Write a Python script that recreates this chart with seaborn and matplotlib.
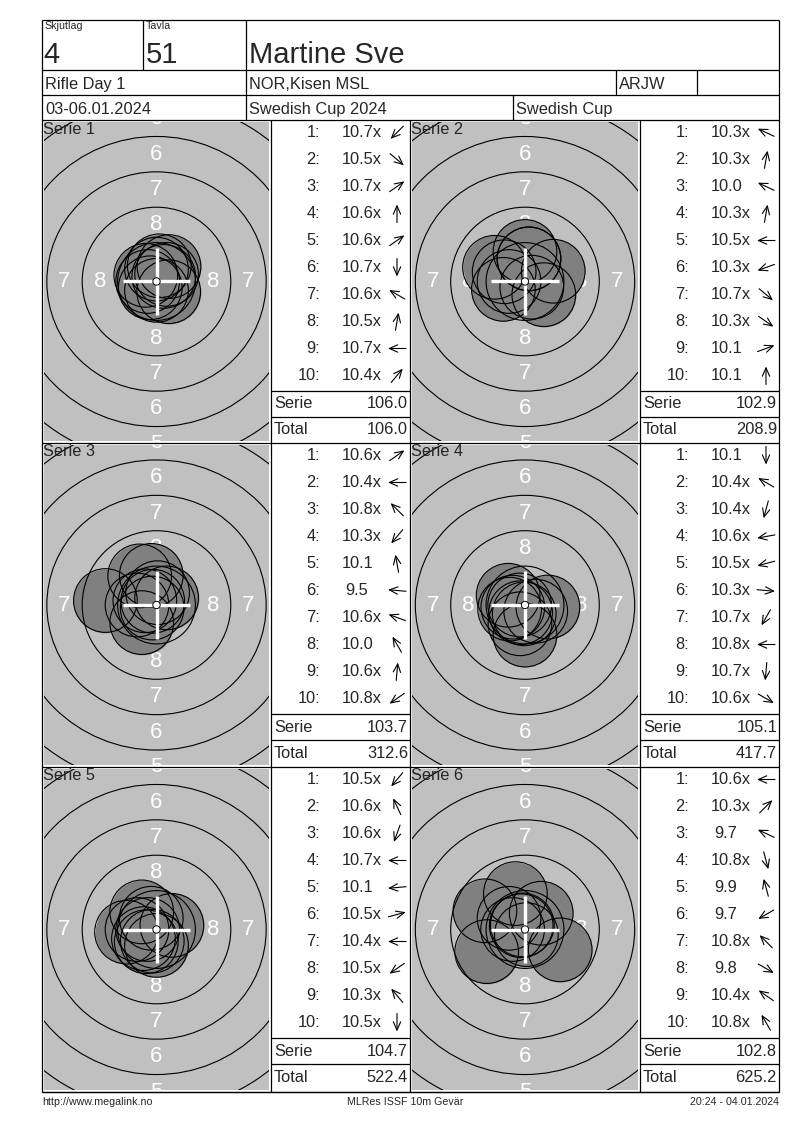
import numpy as np
import pandas as pd
import matplotlib
matplotlib.use("Agg")
import matplotlib.pyplot as plt
from matplotlib.patches import Circle
import seaborn as sns

# ---------------- data ----------------
relay_label = "Skjutlag"
relay_value = "4"
lane_label = "Tavla"
lane_value = "51"
shooter = "Martine Sve"
event_name = "Rifle Day 1"
club = "NOR,Kisen MSL"
shooter_class = "ARJW"
dates = "03-06.01.2024"
competition = "Swedish Cup 2024"
cup_name = "Swedish Cup"
footer_left = "http://www.megalink.no"
footer_mid = "MLRes ISSF 10m Gevär"
footer_right = "20:24 - 04.01.2024"

series_names = ["Serie 1", "Serie 2", "Serie 3", "Serie 4", "Serie 5", "Serie 6"]

s1_scores = [10.7, 10.5, 10.7, 10.6, 10.6, 10.7, 10.6, 10.5, 10.7, 10.4]
s2_scores = [10.3, 10.3, 10.0, 10.3, 10.5, 10.3, 10.7, 10.3, 10.1, 10.1]
s3_scores = [10.6, 10.4, 10.8, 10.3, 10.1, 9.5, 10.6, 10.0, 10.6, 10.8]
s4_scores = [10.1, 10.4, 10.4, 10.6, 10.5, 10.3, 10.7, 10.8, 10.7, 10.6]
s5_scores = [10.5, 10.6, 10.6, 10.7, 10.1, 10.5, 10.4, 10.5, 10.3, 10.5]
s6_scores = [10.6, 10.3, 9.7, 10.8, 9.9, 9.7, 10.8, 9.8, 10.4, 10.8]

# shot direction from centre (degrees, 0 = right, 90 = up), read from the arrows
s1_dirs = [225, 320, 35, 90, 35, 270, 150, 80, 180, 50]
s2_dirs = [155, 80, 155, 80, 180, 200, 320, 325, 20, 90]
s3_dirs = [35, 180, 135, 230, 100, 175, 160, 120, 85, 215]
s4_dirs = [270, 150, 255, 190, 195, 355, 240, 180, 265, 330]
s5_dirs = [230, 115, 250, 180, 185, 15, 180, 215, 130, 270]
s6_dirs = [180, 45, 155, 285, 105, 210, 135, 330, 145, 120]

series_sums = [106.0, 102.9, 103.7, 105.1, 104.7, 102.8]
running_totals = [106.0, 208.9, 312.6, 417.7, 522.4, 625.2]

all_scores = [s1_scores, s2_scores, s3_scores, s4_scores, s5_scores, s6_scores]
all_dirs = [s1_dirs, s2_dirs, s3_dirs, s4_dirs, s5_dirs, s6_dirs]

# ISSF 10 m air rifle target geometry (mm)
ring_radii = [2.75, 5.25, 7.75, 10.25, 12.75, 15.25, 17.75]
ring_labels = [8, 7, 6, 5]
ring_label_r = [4.0, 6.5, 9.0, 11.5]
pellet_r = 2.25

# ---------------- figure ----------------
sns.set_theme(style="white")
plt.rcParams["font.family"] = ["Liberation Sans", "DejaVu Sans"]

W, H, DPI = 800, 1130, 100
fig = plt.figure(figsize=(W / DPI, H / DPI), dpi=DPI)
fig.patch.set_facecolor("white")
PXMM = 14.15
PT = 72.0 / DPI


def fig_axes(x0, y0, x1, y1):
    return fig.add_axes([x0 / W, 1 - y1 / H, (x1 - x0) / W, (y1 - y0) / H])


col_left = [42, 410]
col_mid = [271, 640]
col_right = [410, 779]
row_top = [120, 443, 767]
row_bot = [443, 767, 1092]

# ---------------- targets ----------------
for k in range(6):
    r, c = divmod(k, 2)
    x0, x1 = col_left[c] + 2, col_mid[c] - 2
    y0, y1 = row_top[r] + 2, row_bot[r] - 2
    ax = fig_axes(x0, y0, x1, y1)
    ax.set_facecolor("#c0c0c0")
    hw = (x1 - x0) / 2 / PXMM
    hh = (y1 - y0) / 2 / PXMM
    for lab, lr in zip(ring_labels, ring_label_r):
        pos = [(0, lr), (0, -lr)]
        if lr < hw - 0.6:
            pos += [(lr, 0), (-lr, 0)]
        for (tx, ty) in pos:
            ax.text(tx, ty, str(lab), color="white", fontsize=16, ha="center",
                    va="center", zorder=2, clip_on=True)
    sc = np.array(all_scores[k])
    ang = np.deg2rad(np.array(all_dirs[k]))
    dist = (10.95 - sc) * 2.5
    df = pd.DataFrame({"x": dist * np.cos(ang), "y": dist * np.sin(ang)})
    S = (2 * pellet_r * PXMM * PT) ** 2
    sns.scatterplot(data=df, x="x", y="y", s=S, color="#808080", linewidth=0,
                    ax=ax, legend=False, zorder=3)
    ax.scatter(df["x"], df["y"], s=S, facecolors="none", edgecolors="black",
               linewidths=0.8, zorder=4)
    for rr in ring_radii:
        ax.add_patch(Circle((0, 0), rr, fill=False, ec="black", lw=0.8, zorder=4))
    arm = 2.38
    ax.plot([-arm, arm], [0, 0], color="white", lw=2.4, zorder=5, solid_capstyle="butt")
    ax.plot([0, 0], [-arm, arm], color="white", lw=2.4, zorder=5, solid_capstyle="butt")
    ax.add_patch(Circle((0, 0), 0.26, fc="white", ec="black", lw=0.7, zorder=6))
    ax.set_xlim(-hw, hw)
    ax.set_ylim(-hh, hh)
    ax.set_aspect("equal", adjustable="box")
    ax.set_xlabel("")
    ax.set_ylabel("")
    ax.set_xticks([])
    ax.set_yticks([])
    for sp in ax.spines.values():
        sp.set_visible(False)

# ---------------- overlay (lines + text) ----------------
ov = fig.add_axes([0, 0, 1, 1])
ov.set_facecolor("none")
ov.set_xlim(0, W)
ov.set_ylim(H, 0)
ov.axis("off")

LW = 0.9


def hline(y, xa, xb):
    ov.plot([xa, xb], [y, y], color="black", lw=LW, solid_capstyle="butt")


def vline(x, ya, yb):
    ov.plot([x, x], [ya, yb], color="black", lw=LW, solid_capstyle="butt")


# outer frame
hline(20, 42, 779)
hline(1092, 42, 779)
vline(42, 20, 1092)
vline(779, 20, 1092)
# header
hline(70, 42, 779)
hline(95, 42, 779)
hline(120, 42, 779)
vline(143, 20, 70)
vline(246, 20, 120)
vline(616, 70, 95)
vline(697, 70, 95)
vline(513, 95, 120)

small = 7.7
mid = 11.8
big = 21

ov.text(44, 21, relay_label, fontsize=small, ha="left", va="top")
ov.text(146, 21, lane_label, fontsize=small, ha="left", va="top")
ov.text(43, 63, relay_value, fontsize=big, ha="left", va="baseline")
ov.text(146, 63, lane_value, fontsize=big, ha="left", va="baseline")
ov.text(249, 63, shooter, fontsize=big, ha="left", va="baseline")

ov.text(45, 89, event_name, fontsize=mid, ha="left", va="baseline")
ov.text(249, 89, club, fontsize=mid, ha="left", va="baseline")
ov.text(619, 89, shooter_class, fontsize=mid, ha="left", va="baseline")
ov.text(45, 114, dates, fontsize=mid, ha="left", va="baseline")
ov.text(249, 114, competition, fontsize=mid, ha="left", va="baseline")
ov.text(516, 114, cup_name, fontsize=mid, ha="left", va="baseline")

# panels
for r in range(3):
    hline(row_bot[r], 42, 779)
for k in range(6):
    r, c = divmod(k, 2)
    top, bot = row_top[r], row_bot[r]
    L, M, R = col_left[c], col_mid[c], col_right[c]
    vline(M, top, bot)
    if c == 1:
        vline(L, top, bot)
    ov.text(L + 1, top + 9, series_names[k], fontsize=mid, ha="left", va="center")
    for i, (s, d) in enumerate(zip(all_scores[k], all_dirs[k])):
        y = top + 12.5 + 27 * i
        ov.text(M + 49, y, f"{i + 1}:", fontsize=mid, ha="right", va="center")
        lab = f"{s:.1f}" + ("x" if s >= 10.2 else "")
        ov.text(M + 71 + (3 if s < 10 else 0), y, lab, fontsize=mid, ha="left", va="center")
        a = np.deg2rad(d)
        cx, cy = M + 126, y
        half = 9
        dx, dy = half * np.cos(a), -half * np.sin(a)
        ov.annotate("", xy=(cx + dx, cy + dy), xytext=(cx - dx, cy - dy),
                    arrowprops=dict(arrowstyle="->,head_length=0.5,head_width=0.22",
                                    color="black", lw=0.8, shrinkA=0, shrinkB=0))
    ys = top + 271
    yt = top + 297
    hline(ys, M, R)
    hline(yt, M, R)
    ov.text(M + 3, ys + 13, "Serie", fontsize=mid, ha="left", va="center")
    ov.text(R - 2, ys + 13, f"{series_sums[k]:.1f}", fontsize=mid, ha="right", va="center")
    ov.text(M + 3, yt + 13, "Total", fontsize=mid, ha="left", va="center")
    ov.text(R - 2, yt + 13, f"{running_totals[k]:.1f}", fontsize=mid, ha="right", va="center")

# footer
ov.text(42, 1102, footer_left, fontsize=small, ha="left", va="center")
ov.text(405, 1102, footer_mid, fontsize=small, ha="center", va="center")
ov.text(779, 1102, footer_right, fontsize=small, ha="right", va="center")

fig.savefig("out.png", dpi=DPI)
